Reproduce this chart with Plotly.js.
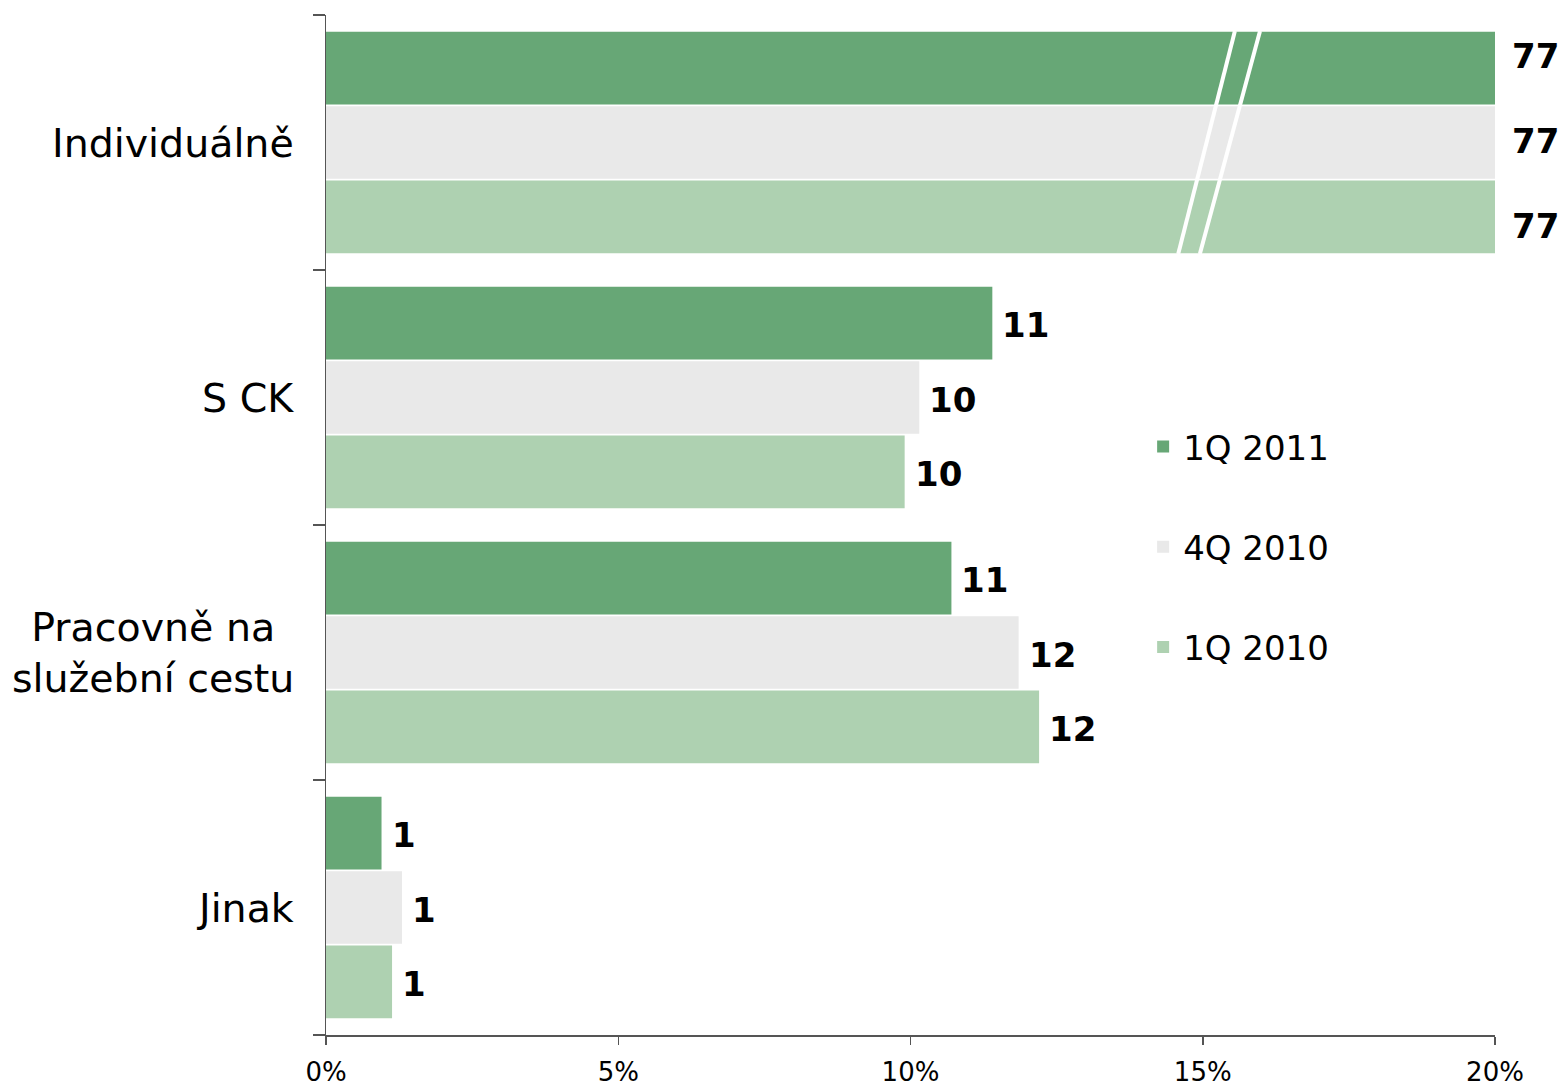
<!DOCTYPE html>
<html>
<head>
<meta charset="utf-8">
<script src="https://cdn.plot.ly/plotly-3.0.1.min.js"></script>
<style>html,body{margin:0;padding:0;background:#fff;}#chart{width:1565px;height:1088px;}</style>
</head>
<body>
<div id="chart"></div>
<script>
const categories = ["Individuálně", "S CK", "Pracovně na<br>služební cestu", "Jinak"];
const seriesNames = ["1Q 2011", "4Q 2010", "1Q 2010"];
const q1_2011 = [77, 11.4, 10.7, 0.95];
const q4_2010 = [77, 10.15, 11.85, 1.3];
const q1_2010 = [77, 9.9, 12.2, 1.13];
const colors = ["#67a776", "#e9e9e9", "#aed1b1"];
const xTicks = [0, 5, 10, 15, 20];
const xMax = 20;

const seriesValues = [q1_2011, q4_2010, q1_2010];
const FONT = "DejaVu Sans, Verdana, sans-serif";
const bargap = 0.125;
const barW = (1 - bargap) / 3;

const traces = seriesValues.map((vals, i) => ({
  type: "bar",
  orientation: "h",
  name: seriesNames[i],
  y: categories.map((c, k) => k),
  x: vals,
  marker: {color: colors[i], line: {width: 0}},
  legendgroup: "g" + i,
  hoverinfo: "x+y"
}));

const annotations = [];
// data labels (labels of bars cut by the axis break are spread like in the original)
const clippedShift = [14, 4, -7];
seriesValues.forEach((vals, i) => {
  vals.forEach((v, k) => {
    const clipped = v > xMax;
    annotations.push({
      x: Math.min(v, xMax), y: k + (i - 1) * barW,
      xref: "x", yref: "y",
      text: "<b>" + Math.round(v) + "</b>",
      showarrow: false, xanchor: "left", yanchor: "middle",
      xshift: clipped ? 15 : 8, yshift: -2 + (clipped ? clippedShift[i] : 0),
      font: {family: FONT, size: 34, color: "#000"}
    });
  });
});
// category labels
categories.forEach((c, k) => {
  annotations.push({
    x: 0, y: k, xref: "paper", yref: "y",
    text: c, showarrow: false, xanchor: "right", yanchor: "middle",
    xshift: -30, align: "center",
    font: {family: FONT, size: 39.5, color: "#000"}
  });
});

// axis-break marks on the first category
const shapes = [
  {type: "line", xref: "x", yref: "y", x0: 15.55, y0: -0.4375, x1: 14.58, y1: 0.4375, line: {color: "#ffffff", width: 4}},
  {type: "line", xref: "x", yref: "y", x0: 15.98, y0: -0.4375, x1: 14.95, y1: 0.4375, line: {color: "#ffffff", width: 4}}
];

const layout = {
  width: 1565, height: 1088,
  margin: {l: 326, r: 70, t: 15, b: 53},
  paper_bgcolor: "#fff", plot_bgcolor: "#fff",
  barmode: "group", bargap: bargap, bargroupgap: 0.025,
  font: {family: FONT, color: "#000"},
  xaxis: {
    range: [0, xMax], tickvals: xTicks, ticktext: xTicks.map(t => t + "%"),
    showgrid: false, zeroline: false, showline: true, linecolor: "#555", linewidth: 1.5,
    ticks: "outside", ticklen: 8, tickcolor: "#555", tickwidth: 1.5,
    ticklabelstandoff: 5,
    tickfont: {family: FONT, size: 26, color: "#000"}, fixedrange: true
  },
  yaxis: {
    range: [3.5, -0.5], type: "linear", tickvals: [-0.5, 0.5, 1.5, 2.5, 3.5],
    showticklabels: false, showgrid: false, zeroline: false,
    showline: true, linecolor: "#555", linewidth: 1.5,
    ticks: "outside", ticklen: 12, tickcolor: "#555", tickwidth: 1.5, fixedrange: true
  },
  showlegend: true,
  legend: {
    x: 0.699, y: 0.605, xanchor: "left", yanchor: "top",
    traceorder: "grouped", tracegroupgap: 53,
    font: {family: FONT, size: 34, color: "#000"},
    bgcolor: "rgba(0,0,0,0)"
  },
  annotations: annotations,
  shapes: shapes
};

Plotly.newPlot("chart", traces, layout, {displayModeBar: false, staticPlot: true});
</script>
</body>
</html>
